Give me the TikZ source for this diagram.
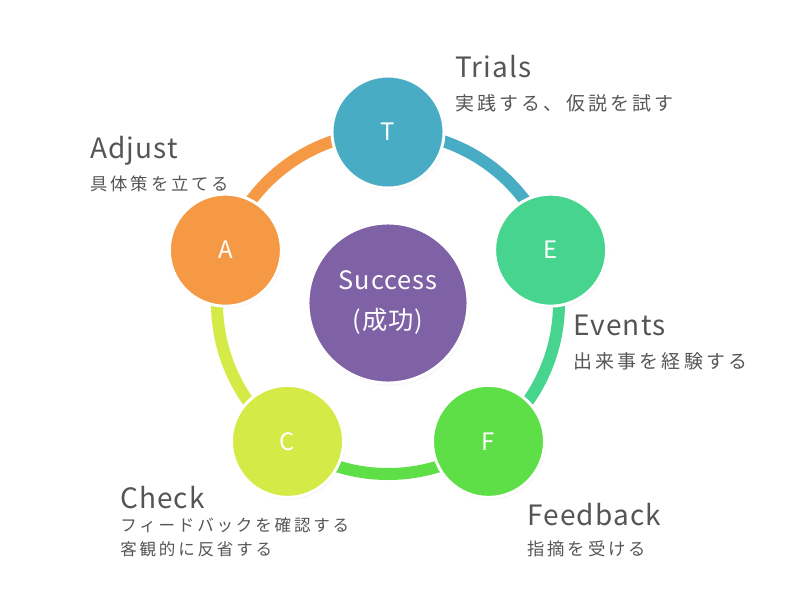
\documentclass[tikz,border=0pt]{standalone}
\usepackage{fontspec}
\setmainfont{Noto Sans CJK JP}
\newfontfamily\headfont[LetterSpace=4]{Noto Sans CJK JP}
\newfontfamily\subfont[LetterSpace=17]{Noto Sans CJK JP}
\usepackage{xcolor}
\usetikzlibrary{shadows}

\definecolor{tcol}{HTML}{48ADC4}
\definecolor{ecol}{HTML}{47D48F}
\definecolor{fcol}{HTML}{5EDF47}
\definecolor{ccol}{HTML}{D4EA47}
\definecolor{acol}{HTML}{F59945}
\definecolor{scol}{HTML}{7F62A5}
\definecolor{txtgray}{HTML}{555555}

\begin{document}
\begin{tikzpicture}[
  x=0.75pt, y=0.75pt,
  stage/.style={circle, draw=white, line width=2.2pt, minimum size=84pt,
                inner sep=0pt, text=white, font=\headfont\fontsize{18}{20}\selectfont,
                circular drop shadow={shadow scale=1.02, shadow xshift=0.6pt,
                                      shadow yshift=-1.2pt, opacity=0.35}},
  hub/.style={stage, minimum size=120pt, fill=scol, align=center,
              font=\headfont\fontsize{19}{30}\selectfont},
  ring/.style={line width=9pt},
  head/.style={anchor=base west, inner sep=0pt, text=txtgray,
               font=\headfont\fontsize{21}{26}\selectfont},
  sub/.style={anchor=base west, inner sep=0pt, text=txtgray,
              font=\subfont\fontsize{13}{17.5}\selectfont},
  smallsub/.style={sub, font=\subfont\fontsize{12.4}{17}\selectfont},
  bigsub/.style={sub, font=\subfont\fontsize{14.2}{18}\selectfont}
]
\useasboundingbox (0,0) rectangle (800,-600);

\begin{scope}[shift={(388,-303)}]
  \node[hub] (S) at (0,0) {Success\\(成功)};
  % ring segments, drawn under the stages
  \path (90:128.25pt) coordinate (pT) (18:128.25pt) coordinate (pE)
        (-54:128.25pt) coordinate (pF) (-126:128.25pt) coordinate (pC)
        (162:128.25pt) coordinate (pA);
  \draw[ring, tcol] (pT) arc[start angle=90, end angle=18, radius=128.25pt];
  \draw[ring, ecol] (pE) arc[start angle=18, end angle=-54, radius=128.25pt];
  \draw[ring, fcol] (pF) arc[start angle=-54, end angle=-126, radius=128.25pt];
  \draw[ring, ccol] (pC) arc[start angle=-126, end angle=-198, radius=128.25pt];
  \draw[ring, acol] (pA) arc[start angle=162, end angle=90, radius=128.25pt];
  \node[stage, fill=tcol] (T) at (pT) {T};
  \node[stage, fill=ecol] (E) at (pE) {E};
  \node[stage, fill=fcol] (F) at (pF) {F};
  \node[stage, fill=ccol] (C) at (pC) {C};
  \node[stage, fill=acol] (A) at (pA) {A};
\end{scope}

\node[head] (trialsH) at (455,-77) {Trials};
\node[bigsub] (trialsS) at (455,-110) {実践する、仮説を試す};
\node[head] (adjustH) at (90,-158) {Adjust};
\node[sub] (adjustS) at (90,-190) {具体策を立てる};
\node[head] (eventsH) at (573,-335) {Events};
\node[bigsub] (eventsS) at (573,-368) {出来事を経験する};
\node[head] (checkH) at (120,-508) {Check};
\node[smallsub] (checkS) at (120,-531) {フィードバックを確認する};
\node[smallsub] (checkS2) at (120,-555) {客観的に反省する};
\node[head] (feedbackH) at (527,-525) {Feedback};
\node[sub] (feedbackS) at (527,-555) {指摘を受ける};
\end{tikzpicture}
\end{document}
